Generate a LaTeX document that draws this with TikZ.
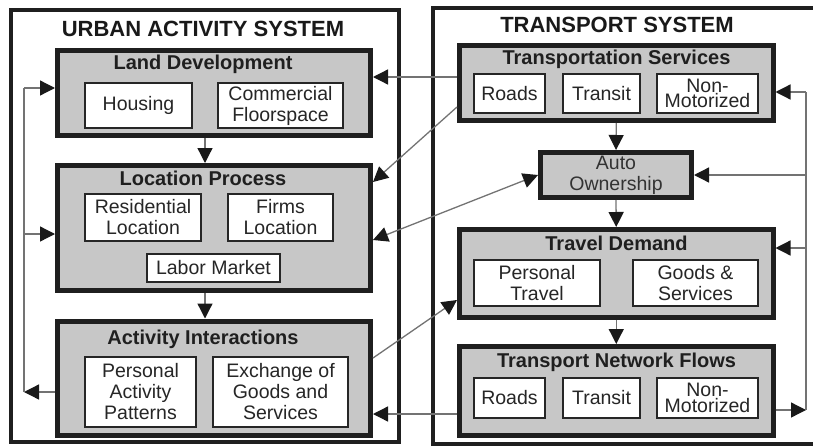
\documentclass[tikz,border=0pt]{standalone}
\usepackage{fontspec}
\setmainfont{Liberation Sans}
\usetikzlibrary{arrows.meta}
\begin{document}
\begin{tikzpicture}[x=1pt,y=-1pt,
  tri/.tip={Triangle[length=15pt,width=15pt,color=black!90,fill=black!90]},
  outerbox/.style={draw=black!88, line width=4pt},
  graybox/.style={draw=black!88, fill=black!22, line width=5pt, inner sep=0pt},
  whitebox/.style={draw=black!85, fill=white, line width=1.8pt, inner sep=0pt, align=center, font=\fontsize{19.5}{21}\selectfont, text=black!85},
  tightbox/.style={whitebox, font=\fontsize{19.5}{15.5}\selectfont},
  header/.style={font=\fontsize{22}{24}\selectfont\bfseries, text=black!90, anchor=base, inner sep=0pt},
  boxtitle/.style={font=\fontsize{20}{22}\selectfont\bfseries, text=black!88, anchor=base, inner sep=0pt},
  gline/.style={draw=black!55, line width=1.3pt},
  conn/.style={gline, -tri},
  conntwo/.style={gline, tri-tri},
]
\useasboundingbox (0,0) rectangle (813,447);
\begin{scope}
\clip (0,0) rectangle (813,447);
\draw[outerbox] (10.5,9.5) rectangle (399,441.5);
\draw[outerbox] (433,7.5) rectangle (840,443.5);
\end{scope}

% headers
\node[header] (hu) at (203,36.7) {URBAN ACTIVITY SYSTEM};
\node[header] (ht) at (617,32.3) {TRANSPORT SYSTEM};

% ---------- Urban activity system ----------
\node[graybox, minimum width=313pt, minimum height=84.5pt] (ld) at (214,92.75) {};
\node[boxtitle] (ldt) at (203,69.5) {Land Development};
\node[whitebox, minimum width=107pt, minimum height=45pt] (hous) at (138.5,105.5) {Housing};
\node[whitebox, minimum width=125pt, minimum height=45pt] (comm) at (280.5,105.5) {Commercial\\Floorspace};

\node[graybox, minimum width=313pt, minimum height=125pt] (lp) at (214,228) {};
\node[boxtitle] (lpt) at (203,185) {Location Process};
\node[whitebox, minimum width=116pt, minimum height=47pt] (res) at (143,217.5) {Residential\\Location};
\node[whitebox, minimum width=105pt, minimum height=47pt] (firm) at (280.5,217.5) {Firms\\Location};
\node[whitebox, minimum width=133pt, minimum height=28pt] (lab) at (213.5,268) {Labor Market};

\node[graybox, minimum width=313pt, minimum height=114.5pt] (ai) at (214,378.25) {};
\node[boxtitle] (ait) at (203,344) {Activity Interactions};
\node[whitebox, minimum width=111pt, minimum height=70pt] (pap) at (140.5,392) {Personal\\Activity\\Patterns};
\node[whitebox, minimum width=135pt, minimum height=70pt] (exg) at (280.5,392) {Exchange of\\Goods and\\Services};

% ---------- Transport system ----------
\node[graybox, minimum width=313.5pt, minimum height=75.5pt] (ts) at (616.25,82.75) {};
\node[boxtitle] (tst) at (616.5,64) {Transportation Services};
\node[whitebox, minimum width=71pt, minimum height=39pt] (r1) at (509.5,93.5) {Roads};
\node[whitebox, minimum width=77pt, minimum height=39pt] (t1) at (601.5,93.5) {Transit};
\node[tightbox, minimum width=101pt, minimum height=39pt] (n1) at (707.5,93.5) {Non-\\Motorized};

\node[graybox, minimum width=151pt, minimum height=45pt, align=center, font=\fontsize{19.5}{21}\selectfont, text=black!80] (ao) at (616,175) {Auto\\Ownership};

\node[graybox, minimum width=313.5pt, minimum height=88pt] (td) at (616.25,273.5) {};
\node[boxtitle] (tdt) at (616.5,250) {Travel Demand};
\node[whitebox, minimum width=126pt, minimum height=46pt] (ptr) at (537,283) {Personal\\Travel};
\node[whitebox, minimum width=125pt, minimum height=46pt] (gs) at (695.5,283) {Goods \&\\Services};

\node[graybox, minimum width=313.5pt, minimum height=89pt] (tnf) at (616.25,391) {};
\node[boxtitle] (tnft) at (616.5,367) {Transport Network Flows};
\node[whitebox, minimum width=71pt, minimum height=40pt] (r2) at (509.5,398) {Roads};
\node[whitebox, minimum width=77pt, minimum height=40pt] (t2) at (601.5,398) {Transit};
\node[tightbox, minimum width=101pt, minimum height=40pt] (n2) at (707.5,398) {Non-\\Motorized};

% ---------- coordinates ----------
\coordinate (L1) at (24,88);
\coordinate (L2) at (24,234);
\coordinate (L3) at (24,392);
\coordinate (R1) at (806,92);
\coordinate (R2) at (806,175);
\coordinate (R3) at (806,248);
\coordinate (R4) at (806,410);
\coordinate (v1) at (205,0);
\coordinate (c1) at (0,77);
\coordinate (c2) at (0,107);
\coordinate (c3) at (0,182);
\coordinate (c4) at (0,240);
\coordinate (c5) at (0,358);
\coordinate (c6) at (0,300);
\coordinate (c7) at (0,414);

% vertical flows
\draw[conn] (ld.south -| v1) -- (lp.north -| v1);
\draw[conn] (lp.south -| v1) -- (ai.north -| v1);
\draw[conn] (ts.south) -- (ao.north);
\draw[conn] (ao.south) -- (td.north);
\draw[conn] (td.south) -- (tnf.north);

% left feedback loop
\draw[conn] (ai.west |- L3) -- (L3);
\draw[gline] (L3) -- (L1);
\draw[conn] (L1) -- (ld.west |- L1);
\draw[conn] (L2) -- (lp.west |- L2);

% right feedback loop
\draw[conn] (tnf.east |- R4) -- (R4);
\draw[gline] (R4) -- (R1);
\draw[conn] (R1) -- (ts.east |- R1);
\draw[conn] (R2) -- (ao.east);
\draw[conn] (R3) -- (td.east |- R3);

% cross links
\draw[conn] (ts.west |- c1) -- (ld.east |- c1);
\draw[conn] (ts.west |- c2) -- (lp.east |- c3);
\draw[conntwo] (lp.east |- c4) -- (ao.west);
\draw[conn] (ai.east |- c5) -- (td.west |- c6);
\draw[conn] (tnf.west |- c7) -- (ai.east |- c7);
\end{tikzpicture}
\end{document}
